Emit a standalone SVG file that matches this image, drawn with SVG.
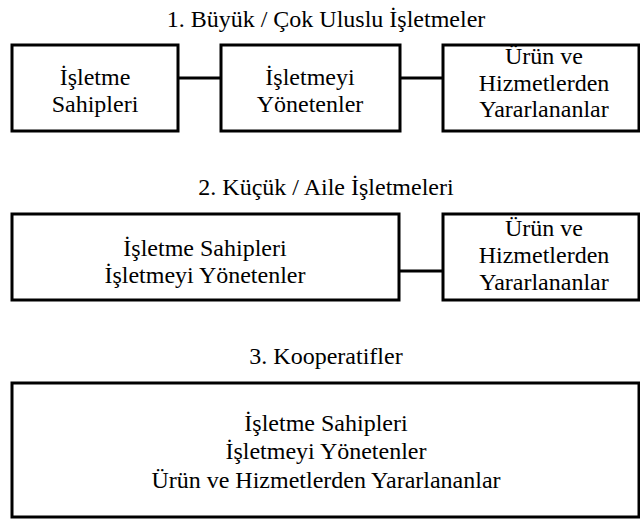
<svg xmlns="http://www.w3.org/2000/svg" width="640" height="519" viewBox="0 0 640 519">
<style>
.box{fill:#fff;stroke:#000;stroke-width:3}
.t{font-family:'Liberation Serif','Times New Roman',serif;font-size:24px;fill:#000;text-anchor:middle}
.c{stroke:#000;stroke-width:3;fill:none}
</style>
<rect width="640" height="519" fill="#fff"/>
<text class="t" x="326" y="27">1. Büyük / Çok Uluslu İşletmeler</text>
<text class="t" x="326" y="195">2. Küçük / Aile İşletmeleri</text>
<text class="t" x="326" y="364">3. Kooperatifler</text>
<g id="connectors">
<line class="c" x1="178" y1="78" x2="221" y2="78"/>
<line class="c" x1="400" y1="78" x2="443" y2="78"/>
<line class="c" x1="399" y1="271" x2="443" y2="271"/>
</g>
<g id="n1-owners">
<rect class="box" x="12" y="45" width="166" height="86"/>
<text class="t"><tspan x="95" y="85">İşletme</tspan><tspan x="95" y="112">Sahipleri</tspan></text>
</g>
<g id="n1-managers">
<rect class="box" x="221" y="45" width="179" height="86"/>
<text class="t"><tspan x="310" y="85">İşletmeyi</tspan><tspan x="310" y="112">Yönetenler</tspan></text>
</g>
<g id="n1-users">
<rect class="box" x="443" y="45" width="196" height="86"/>
<text class="t"><tspan x="544" y="64">Ürün ve</tspan><tspan x="544" y="91">Hizmetlerden</tspan><tspan x="544" y="117">Yararlananlar</tspan></text>
</g>
<g id="n2-owners-managers">
<rect class="box" x="12" y="214" width="387" height="86"/>
<text class="t"><tspan x="205" y="256">İşletme Sahipleri</tspan><tspan x="205" y="283">İşletmeyi Yönetenler</tspan></text>
</g>
<g id="n2-users">
<rect class="box" x="443" y="214" width="196" height="86"/>
<text class="t"><tspan x="544" y="236">Ürün ve</tspan><tspan x="544" y="263">Hizmetlerden</tspan><tspan x="544" y="290">Yararlananlar</tspan></text>
</g>
<g id="n3-all">
<rect class="box" x="12" y="383" width="627" height="134"/>
<text class="t"><tspan x="326" y="431">İşletme Sahipleri</tspan><tspan x="326" y="459">İşletmeyi Yönetenler</tspan><tspan x="326" y="488">Ürün ve Hizmetlerden Yararlananlar</tspan></text>
</g>
</svg>
